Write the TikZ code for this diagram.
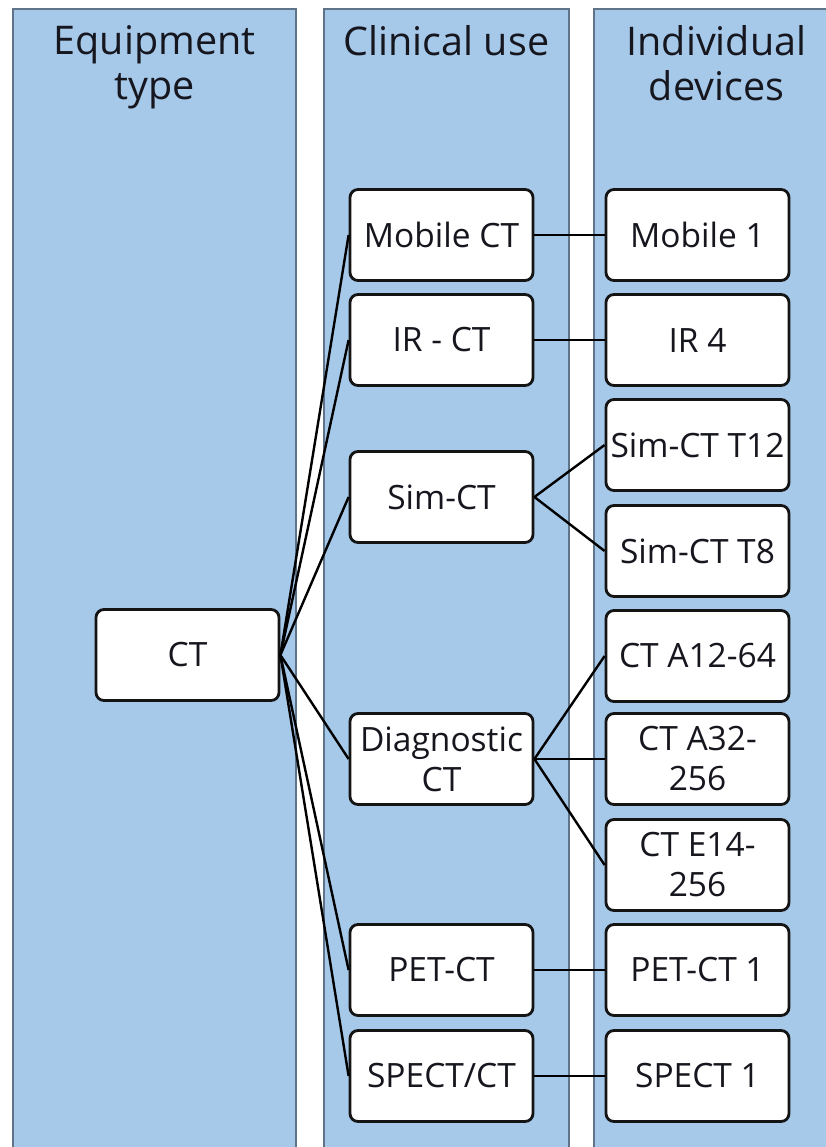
\documentclass[tikz,border=0pt]{standalone}
\usepackage{fontspec}
\setmainfont{Open Sans}

\definecolor{colfill}{HTML}{A6C8E9}
\definecolor{colline}{HTML}{5F7489}
\definecolor{txt}{HTML}{16161E}

\begin{document}
\begin{tikzpicture}[x=1pt,y=-1pt,
    column/.style={fill=colfill,draw=colline,line width=1.2pt},
    head/.style={text=txt,align=center,inner sep=0pt,anchor=north,
        font=\fontsize{39.5}{45}\selectfont},
    item/.style={draw=black!92,fill=white,line width=2.8pt,rounded corners=8pt,
        minimum width=183pt,minimum height=91pt,inner sep=0pt,text=txt,
        align=center,font=\fontsize{33.5}{40}\selectfont},
    link/.style={black,line width=2.4pt}]

% page
\useasboundingbox (0,0) rectangle (826,1147);
\clip (0,0) rectangle (826,1147);
\fill[white] (0,0) rectangle (826,1147);

% columns
\draw[column] (13,9) rectangle (296,1160);
\draw[column] (324,9) rectangle (569,1160);
\draw[column] (594,9) rectangle (839,1160);

% headings
\node[head] (hequip) at (154.5,25) {Equipment\\type};
\node[head] (huse) at (446.5,25) {Clinical use};
\node[head] (hdev) at (716.5,25) {Individual\\devices};

% equipment type
\node[item] (ct) at (187.5,655) {CT};

% clinical use
\node[item] (mob)   at (441.5,235)  {Mobile CT};
\node[item] (ir)    at (441.5,340)  {IR - CT};
\node[item] (sim)   at (441.5,497)  {Sim-CT};
\node[item] (diag)  at (441.5,759)  {Diagnostic\\CT};
\node[item] (pet)   at (441.5,970)  {PET-CT};
\node[item] (spect) at (441.5,1076) {SPECT/CT};

% individual devices
\node[item] (mobone)   at (697.5,235)  {Mobile 1};
\node[item] (irfour)   at (697.5,340)  {IR 4};
\node[item] (simtw)    at (697.5,445)  {Sim-CT T12};
\node[item] (simei)    at (697.5,551)  {Sim-CT T8};
\node[item] (ctaone)   at (697.5,656)  {CT A12-64};
\node[item] (ctatwo)   at (697.5,759)  {CT A32-\\256};
\node[item] (cteone)   at (697.5,865)  {CT E14-\\256};
\node[item] (petone)   at (697.5,970)  {PET-CT 1};
\node[item] (spectone) at (697.5,1076) {SPECT 1};

% links
\foreach \u in {mob,ir,sim,diag,pet,spect}
    \draw[link] (ct.east) -- (\u.west);

\foreach \u/\d in {mob/mobone,ir/irfour,sim/simtw,sim/simei,diag/ctaone,
        diag/ctatwo,diag/cteone,pet/petone,spect/spectone}
    \draw[link] (\u.east) -- (\d.west);

\end{tikzpicture}
\end{document}
